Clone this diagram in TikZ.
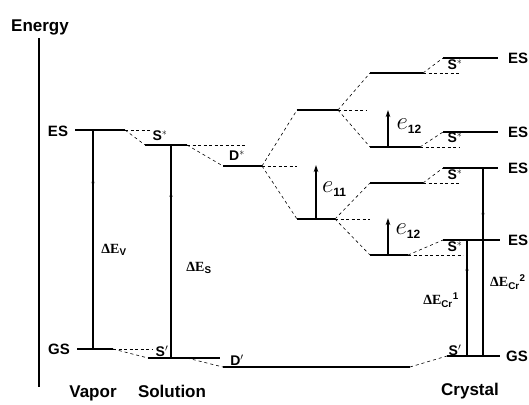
\documentclass[tikz,border=0pt]{standalone}
\usepackage{fontspec}
\setmainfont{Liberation Sans}
\newfontfamily\serifb{Liberation Serif}
\usetikzlibrary{arrows.meta,decorations.markings}
\newcommand\mylevel[5]{%
  \coordinate (#1-a) at (#2,#5);
  \coordinate (#1-b) at (#3,#5);
  \coordinate (#1-c) at (#4,#5);
  \draw[lvl] (#1-a) -- (#1-b);
  \draw[dsh] (#1-b) -- (#1-c);}
\newcommand\elab[1]{{\fontsize{27}{28}\selectfont$e$}\raisebox{-4pt}{\fontsize{12}{12}\selectfont\bfseries #1}}
\begin{document}
\begin{tikzpicture}[x=1pt,y=-1pt,
  lvl/.style={line width=1.3pt},
  dsh/.style={line width=0.6pt, dash pattern=on 3pt off 2.5pt},
  conn/.style={line width=0.6pt, dash pattern=on 3pt off 3pt},
  big/.style={font=\fontsize{17}{18}\selectfont\bfseries, inner sep=0pt, anchor=base},
  tx/.style={font=\fontsize{15}{16}\selectfont\bfseries, inner sep=0pt},
  sm/.style={font=\fontsize{14}{15}\selectfont\bfseries, inner sep=0pt},
  de/.style={font=\fontsize{14}{15}\selectfont\bfseries, inner sep=0pt},
  el/.style={inner sep=0pt},
  trans/.style={line width=1.1pt, postaction={decorate},
    decoration={markings, mark=at position 0.78 with {\arrow{Stealth[length=5pt,width=3pt]}}}},
  uparr/.style={line width=1.3pt, -{Stealth[length=7pt,width=4.5pt]}}
]
\useasboundingbox (0,0) rectangle (529,404);

% energy axis
\node[big] (energy) at (40,31) {Energy};
\coordinate (axtop) at (39,38);
\coordinate (axbot) at (39,387);
\draw[line width=1.5pt] (axtop) -- (axbot);

% levels
\mylevel{vES}{75}{125}{152}{130}
\mylevel{vGS}{77}{113}{153}{349}
\mylevel{sES}{145}{187}{245}{145}
\mylevel{sGS}{148}{220}{220}{358}
\mylevel{dES}{223}{262}{297}{166}
\mylevel{dGS}{223}{410}{410}{367}
\mylevel{U}{297}{338}{367}{110}
\mylevel{L}{297}{335}{370}{219}
\mylevel{UU}{370}{423}{460}{73}
\mylevel{UL}{370}{420}{460}{147}
\mylevel{LU}{370}{423}{460}{183}
\mylevel{LL}{370}{408}{463}{255}
\mylevel{cA}{443}{498}{498}{58}
\mylevel{cB}{443}{498}{498}{132}
\mylevel{cC}{443}{498}{498}{168}
\mylevel{cD}{443}{500}{500}{240}
\mylevel{cG}{447}{500}{500}{356}
\coordinate (sGSm) at (187,358);

% correlation connectors
\draw[conn] (vES-b) -- (sES-a);
\draw[conn] (vGS-b) -- (sGS-a);
\draw[conn] (sES-b) -- (dES-a);
\draw[conn] (sGSm) -- (dGS-a);
\draw[conn] (dES-b) -- (U-a);
\draw[conn] (dES-b) -- (L-a);
\draw[conn] (U-b) -- (UU-a);
\draw[conn] (U-b) -- (UL-a);
\draw[conn] (L-b) -- (LU-a);
\draw[conn] (L-b) -- (LL-a);
\draw[conn] (UU-b) -- (cA-a);
\draw[conn] (UL-b) -- (cB-a);
\draw[conn] (LU-b) -- (cC-a);
\draw[conn] (LL-b) -- (cD-a);
\draw[conn] (dGS-b) -- (cG-a);

% transitions
\coordinate (tv0) at (93,349);  \coordinate (tv1) at (93,130);
\coordinate (ts0) at (171,358); \coordinate (ts1) at (171,145);
\coordinate (tc10) at (467,356); \coordinate (tc11) at (467,240);
\coordinate (tc20) at (483,356); \coordinate (tc21) at (483,168);
\draw[trans] (tv0) -- (tv1);
\draw[trans] (ts0) -- (ts1);
\draw[trans] (tc10) -- (tc11);
\draw[trans] (tc20) -- (tc21);

% splittings
\coordinate (e11a) at (316,219); \coordinate (e11b) at (316,165);
\coordinate (e12a) at (388,147); \coordinate (e12b) at (388,110);
\coordinate (e12c) at (388,255); \coordinate (e12d) at (388,218);
\draw[uparr] (e11a) -- (e11b);
\draw[uparr] (e12a) -- (e12b);
\draw[uparr] (e12c) -- (e12d);

% labels
\node[tx] (lvES) at (58,131) {ES};
\node[tx] (lvGS) at (59,349) {GS};
\node[sm] (lsES) at (160,136) {S$^{*}$};
\node[sm] (lsGS) at (162,351) {S$'$};
\node[sm] (ldES) at (237,156) {D$^{*}$};
\node[sm] (ldGS) at (237,360) {D$'$};
\node[sm] (lcA) at (455,65) {S$^{*}$};
\node[sm] (lcB) at (455,138) {S$^{*}$};
\node[sm] (lcC) at (455,175) {S$^{*}$};
\node[sm] (lcD) at (455,247) {S$^{*}$};
\node[sm] (lcG) at (455,350) {S$'$};
\node[tx] (rA) at (518,58) {ES};
\node[tx] (rB) at (518,132) {ES};
\node[tx] (rC) at (518,168) {ES};
\node[tx] (rD) at (518,240) {ES};
\node[tx] (rG) at (517,356) {GS};

\node[de] (dEV) at (114,250) {{\serifb ΔE}\textsubscript{V}};
\node[de] (dES) at (199,268) {{\serifb ΔE}\textsubscript{S}};
\node[de] (dEC1) at (441,300) {{\serifb ΔE}\textsubscript{Cr}\textsuperscript{1}};
\node[de, anchor=west] (dEC2) at (490,282) {{\serifb ΔE}\textsubscript{Cr}\textsuperscript{2}};

\node[el] (le11) at (334,189) {\elab{11}};
\node[el] (le12u) at (409,126) {\elab{12}};
\node[el] (le12l) at (408,231) {\elab{12}};

\node[big] (vap) at (93,397) {Vapor};
\node[big] (sol) at (172,397) {Solution};
\node[big] (cry) at (470,395) {Crystal};
\end{tikzpicture}
\end{document}
